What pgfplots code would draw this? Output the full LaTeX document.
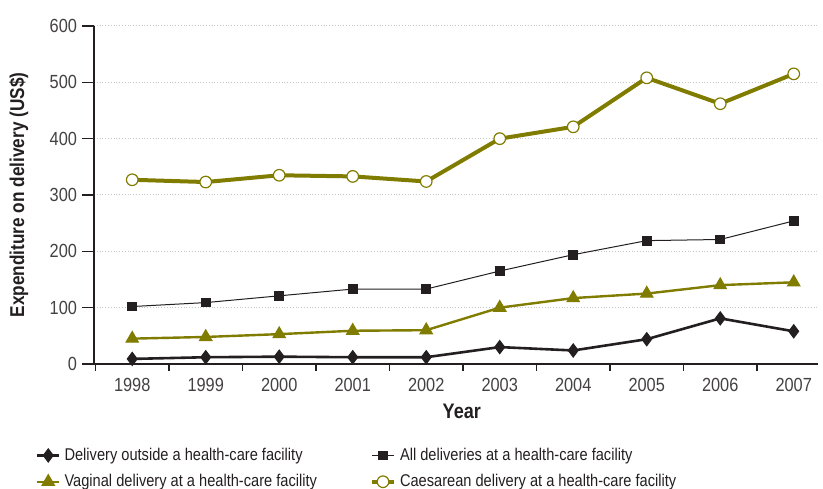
\documentclass[border=0pt]{standalone}
\usepackage{fontspec}
\setmainfont{Liberation Sans}[FakeStretch=0.86]
\usepackage{pgfplots}
\pgfplotsset{compat=1.18}
\definecolor{olive}{RGB}{128,124,0}
\definecolor{ink}{RGB}{35,31,32}
\begin{document}
\begin{tikzpicture}
\begin{axis}[
  scale only axis,
  width=362pt, height=169pt,
  xmin=-0.52, xmax=9.33,
  ymin=0, ymax=600,
  xtick={0,...,9},
  xticklabels={1998,1999,2000,2001,2002,2003,2004,2005,2006,2007},
  minor xtick={-0.5,0.5,1.5,2.5,3.5,4.5,5.5,6.5,7.5,8.5},
  ytick={0,100,...,600},
  axis lines*=left,
  axis line style={ink, line width=0.6pt, -},
  major x tick style={draw=none},
  minor x tick style={ink, line width=0.6pt},
  y tick style={ink, line width=0.6pt},
  tick align=outside,
  major tick length=6pt,
  minor tick length=3.5pt,
  ymajorgrids,
  grid style={densely dotted, gray!45, line width=0.5pt},
  ticklabel style={font=\fontsize{9.5}{11}\selectfont, text=ink!85},
  yticklabel style={xshift=1pt},
  xticklabel style={yshift=2.5pt},
  /pgf/number format/assume math mode=true,
  /pgf/number format/1000 sep={},
  xlabel={Year},
  ylabel={Expenditure on delivery (US\$)},
  xlabel style={at={(axis description cs:0.508,-0.139)}, anchor=center,
    font=\fontsize{10.5}{12}\selectfont\bfseries, text=ink},
  ylabel style={at={(axis description cs:-0.104,0.5)}, anchor=center, rotate=0,
    font=\fontsize{10}{12}\selectfont\bfseries, text=ink},
  legend columns=2,
  legend style={draw=none, fill=none, at={(axis description cs:-0.089,-0.223)}, anchor=north west,
    font=\fontsize{8.5}{10}\selectfont, text=ink,
    /tikz/every even column/.append style={column sep=24.5pt},
    row sep=1.5pt},
  legend cell align=left,
  legend image code/.code={\draw[mark repeat=2, mark phase=2] plot coordinates {(0pt,0pt)(5.5pt,0pt)(11pt,0pt)};},
  clip=false,
]
\coordinate (sw) at (rel axis cs:0,0);
\coordinate (ne) at (rel axis cs:1,1);
\addplot[ink, line width=1.3pt, mark=diamond*, mark size=3.3pt, mark options={fill=ink, line width=0.5pt}]
 coordinates {(0,9)(1,12)(2,13)(3,12)(4,12)(5,30)(6,24)(7,44)(8,81)(9,58)};
\addlegendentry{Delivery outside a health-care facility}
\addplot[ink, line width=0.5pt, mark=square*, mark size=2.2pt, mark options={fill=ink}]
 coordinates {(0,102)(1,109)(2,121)(3,133)(4,133)(5,165)(6,194)(7,219)(8,221)(9,254)};
\addlegendentry{All deliveries at a health-care facility}
\addplot[olive, line width=1.2pt, mark=triangle*, mark size=3.6pt, mark options={fill=olive, line width=0.5pt}]
 coordinates {(0,45)(1,48)(2,53)(3,59)(4,60)(5,100)(6,117)(7,125)(8,140)(9,145)};
\addlegendentry{Vaginal delivery at a health-care facility}
\addplot[olive, line width=2pt, mark=*, mark size=2.9pt, mark options={fill=white, draw=olive, line width=0.6pt}]
 coordinates {(0,327)(1,323)(2,335)(3,333)(4,324)(5,400)(6,421)(7,508)(8,462)(9,515)};
\addlegendentry{Caesarean delivery at a health-care facility}
\end{axis}
\pgfresetboundingbox
\path[use as bounding box] ([shift={(-47pt,-62.5pt)}]sw) rectangle ([shift={(2.5pt,13pt)}]ne);
\end{tikzpicture}
\end{document}
